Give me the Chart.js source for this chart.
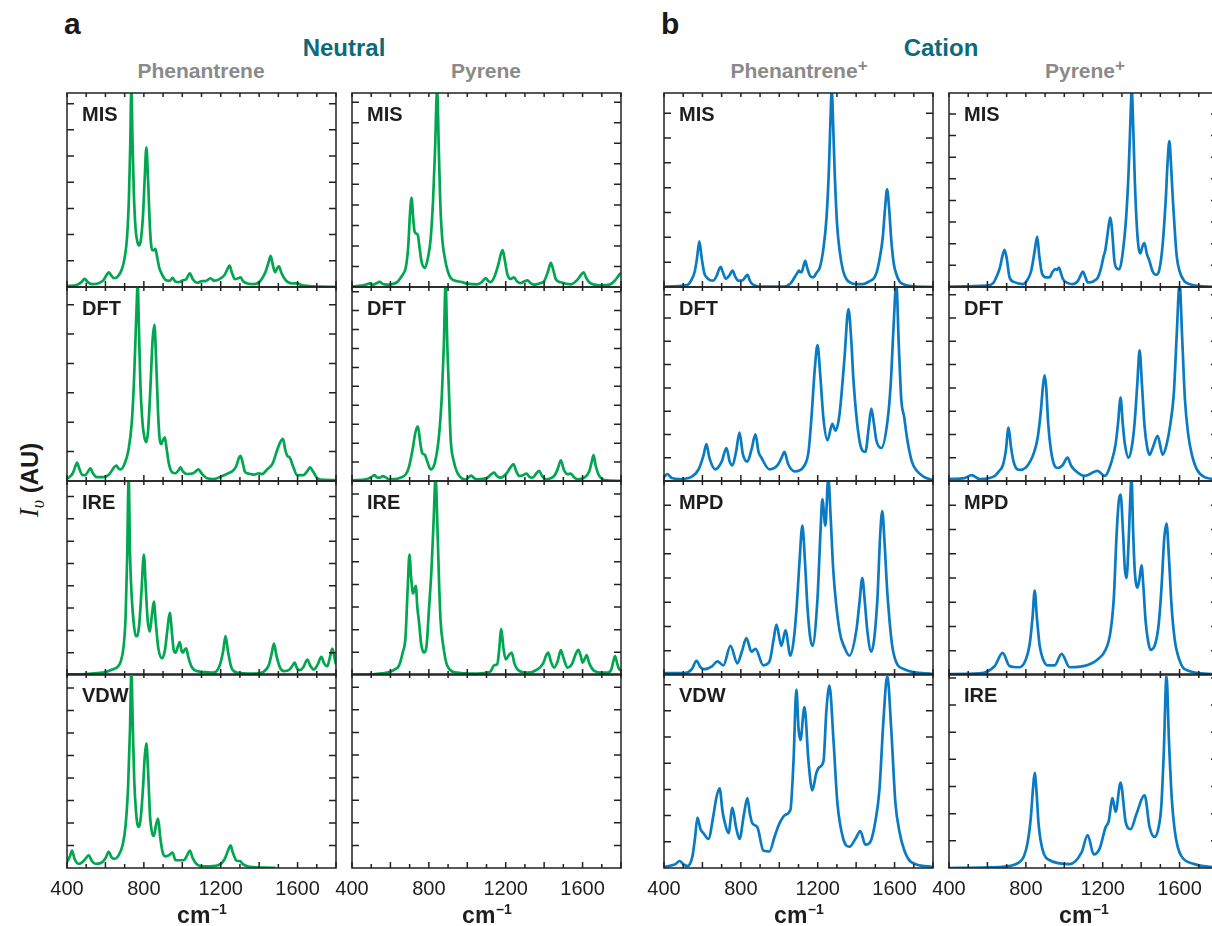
<!DOCTYPE html>
<html>
<head>
<meta charset="utf-8">
<script src="https://cdn.jsdelivr.net/npm/chart.js@4.4.1/dist/chart.umd.min.js"></script>
<style>
  body { margin: 0; width: 1212px; height: 926px; overflow: hidden; background: #fff; position: relative;
         font-family: 'Liberation Sans', Arial, sans-serif; }
  .t { position: absolute; white-space: nowrap; font-weight: bold; line-height: 1; }
  .c { transform: translateX(-50%); }
  canvas { position: absolute; }
</style>
</head>
<body>
<div class="t" style="left:64px;top:9px;font-size:30px;color:#1a1a1a">a</div>
<div class="t" style="left:661px;top:9px;font-size:30px;color:#1a1a1a">b</div>
<div class="t c" style="left:344px;top:36px;font-size:24px;color:#0b6a7c">Neutral</div>
<div class="t c" style="left:941px;top:36px;font-size:24px;color:#0b6a7c">Cation</div>
<div class="t c" style="left:201px;top:60px;font-size:21px;color:#8a8a8a">Phenantrene</div>
<div class="t c" style="left:486px;top:60px;font-size:21px;color:#8a8a8a">Pyrene</div>
<div class="t c" style="left:799px;top:60px;font-size:21px;color:#8a8a8a">Phenantrene<span style="font-size:17px;position:relative;top:-7px">+</span></div>
<div class="t c" style="left:1085px;top:60px;font-size:21px;color:#8a8a8a">Pyrene<span style="font-size:17px;position:relative;top:-7px">+</span></div>
<div class="t" style="left:29px;top:480px;font-size:24px;color:#1a1a1a;transform:translate(-50%,-50%) rotate(-90deg)"><span style="font-family:'Liberation Serif',serif;font-style:italic;font-weight:normal;font-size:27px">I</span><span style="font-family:'Liberation Serif',serif;font-style:italic;font-weight:normal;font-size:18px;position:relative;top:6px">υ</span> (AU)</div>

<script>
// IR band profiles, x in cm-1, y as a fraction of the panel height
const phenMIS = [[400,0.005],[450,0.01],[475,0.025],[492,0.042],[508,0.025],[530,0.015],[560,0.018],[590,0.035],[605,0.06],[617,0.076],[630,0.06],[645,0.045],[665,0.055],[685,0.09],[700,0.15],[712,0.25],[722,0.45],[729,0.72],[735,1.02],[741,0.75],[748,0.48],[757,0.3],[767,0.23],[775,0.215],[784,0.24],[795,0.36],[804,0.55],[813,0.72],[822,0.55],[832,0.3],[843,0.19],[852,0.19],[860,0.197],[868,0.16],[880,0.1],[895,0.064],[915,0.035],[935,0.032],[949,0.047],[962,0.03],[980,0.025],[1004,0.035],[1020,0.04],[1039,0.07],[1055,0.04],[1077,0.022],[1103,0.03],[1120,0.03],[1147,0.045],[1165,0.033],[1182,0.035],[1208,0.05],[1222,0.065],[1236,0.095],[1246,0.11],[1258,0.075],[1274,0.04],[1290,0.045],[1303,0.05],[1318,0.028],[1340,0.018],[1373,0.015],[1400,0.025],[1416,0.045],[1434,0.08],[1450,0.13],[1460,0.16],[1472,0.11],[1483,0.076],[1493,0.095],[1503,0.107],[1515,0.075],[1538,0.035],[1570,0.018],[1599,0.019],[1620,0.01],[1660,0.005],[1720,0.002],[1800,0.001]];
const phenDFT = [[400,0.01],[430,0.04],[445,0.08],[452,0.095],[462,0.07],[480,0.03],[495,0.03],[510,0.05],[522,0.065],[535,0.04],[555,0.02],[590,0.02],[620,0.035],[645,0.07],[657,0.08],[668,0.065],[680,0.06],[700,0.09],[720,0.16],[737,0.3],[748,0.5],[757,0.75],[763,0.92],[768,1.02],[774,0.8],[782,0.5],[793,0.3],[804,0.22],[813,0.2],[822,0.26],[835,0.5],[845,0.72],[855,0.805],[864,0.62],[874,0.35],[882,0.22],[890,0.19],[899,0.21],[909,0.225],[918,0.17],[930,0.09],[947,0.045],[965,0.04],[980,0.055],[991,0.07],[1003,0.05],[1025,0.036],[1057,0.04],[1070,0.05],[1084,0.06],[1100,0.04],[1130,0.014],[1164,0.01],[1208,0.026],[1240,0.04],[1260,0.05],[1280,0.075],[1295,0.12],[1303,0.13],[1313,0.1],[1325,0.05],[1338,0.04],[1360,0.035],[1373,0.033],[1399,0.04],[1415,0.035],[1442,0.06],[1470,0.09],[1494,0.16],[1510,0.2],[1524,0.217],[1536,0.16],[1546,0.13],[1560,0.12],[1575,0.08],[1598,0.03],[1630,0.03],[1650,0.05],[1665,0.07],[1680,0.05],[1703,0.014],[1740,0.006],[1800,0.005]];
const phenIRE = [[400,0.003],[500,0.005],[560,0.01],[600,0.015],[640,0.03],[661,0.04],[680,0.07],[695,0.15],[705,0.3],[713,0.6],[721,1.02],[728,0.62],[737,0.4],[748,0.26],[758,0.2],[765,0.2],[775,0.25],[787,0.42],[800,0.62],[810,0.45],[820,0.28],[831,0.224],[841,0.3],[852,0.378],[862,0.27],[875,0.14],[895,0.086],[910,0.13],[922,0.23],[935,0.32],[946,0.22],[955,0.13],[965,0.115],[978,0.15],[987,0.17],[996,0.125],[1004,0.115],[1012,0.13],[1020,0.138],[1032,0.09],[1050,0.04],[1077,0.02],[1120,0.015],[1164,0.012],[1195,0.05],[1212,0.12],[1225,0.2],[1238,0.12],[1255,0.04],[1268,0.02],[1320,0.008],[1373,0.007],[1420,0.015],[1450,0.05],[1465,0.11],[1477,0.162],[1490,0.1],[1510,0.035],[1529,0.02],[1560,0.03],[1575,0.05],[1585,0.064],[1597,0.035],[1612,0.025],[1630,0.04],[1651,0.08],[1665,0.05],[1685,0.028],[1705,0.055],[1724,0.093],[1738,0.06],[1755,0.045],[1768,0.09],[1781,0.136],[1792,0.09],[1800,0.055]];
const phenVDW = [[400,0.03],[415,0.06],[426,0.09],[440,0.045],[461,0.022],[490,0.04],[513,0.065],[530,0.035],[548,0.022],[575,0.025],[600,0.05],[617,0.083],[632,0.055],[647,0.047],[665,0.06],[690,0.12],[705,0.22],[718,0.42],[728,0.72],[735,1.02],[742,0.75],[750,0.45],[760,0.28],[768,0.22],[775,0.212],[784,0.26],[796,0.42],[805,0.58],[813,0.643],[822,0.5],[832,0.27],[843,0.18],[852,0.165],[863,0.22],[874,0.255],[885,0.16],[898,0.08],[912,0.06],[930,0.065],[949,0.08],[965,0.04],[982,0.04],[1008,0.04],[1025,0.065],[1039,0.09],[1055,0.05],[1077,0.018],[1110,0.008],[1147,0.009],[1190,0.015],[1220,0.045],[1240,0.095],[1251,0.117],[1263,0.08],[1280,0.04],[1290,0.036],[1300,0.036],[1315,0.02],[1338,0.009],[1380,0.004],[1430,0.002],[1485,0.001]];

const pyrMIS = [[400,0.003],[450,0.007],[480,0.015],[496,0.02],[510,0.012],[525,0.018],[544,0.026],[560,0.015],[583,0.012],[610,0.015],[635,0.025],[655,0.05],[668,0.07],[680,0.1],[692,0.2],[702,0.38],[710,0.46],[718,0.36],[726,0.285],[735,0.275],[743,0.266],[752,0.2],[762,0.13],[779,0.098],[795,0.15],[809,0.244],[822,0.45],[832,0.7],[843,1.02],[852,0.7],[860,0.42],[870,0.244],[883,0.15],[896,0.09],[915,0.045],[948,0.03],[965,0.027],[1000,0.017],[1052,0.014],[1075,0.025],[1096,0.046],[1110,0.03],[1122,0.025],[1140,0.05],[1160,0.11],[1175,0.17],[1184,0.19],[1195,0.14],[1209,0.064],[1226,0.042],[1243,0.05],[1258,0.03],[1278,0.02],[1295,0.028],[1313,0.034],[1330,0.02],[1348,0.012],[1380,0.02],[1400,0.03],[1420,0.08],[1435,0.124],[1447,0.09],[1461,0.04],[1487,0.024],[1539,0.014],[1574,0.038],[1590,0.06],[1605,0.076],[1620,0.045],[1635,0.024],[1696,0.009],[1740,0.012],[1765,0.03],[1785,0.055],[1796,0.069],[1800,0.064]];
const pyrDFT = [[400,0.003],[478,0.01],[500,0.02],[518,0.03],[530,0.018],[545,0.017],[560,0.025],[574,0.02],[590,0.01],[620,0.01],[652,0.017],[680,0.035],[696,0.07],[715,0.16],[730,0.25],[743,0.282],[755,0.2],[765,0.145],[779,0.135],[792,0.1],[809,0.06],[830,0.09],[852,0.225],[868,0.45],[878,0.7],[887,1.02],[896,0.7],[905,0.45],[913,0.225],[930,0.1],[948,0.043],[970,0.015],[991,0.007],[1021,0.028],[1035,0.015],[1052,0.009],[1104,0.017],[1125,0.035],[1139,0.043],[1155,0.025],[1174,0.017],[1205,0.04],[1225,0.07],[1240,0.087],[1255,0.05],[1270,0.026],[1290,0.03],[1308,0.038],[1325,0.02],[1339,0.017],[1360,0.04],[1374,0.052],[1390,0.025],[1409,0.009],[1452,0.026],[1470,0.06],[1487,0.107],[1502,0.06],[1522,0.035],[1539,0.038],[1555,0.02],[1574,0.009],[1609,0.017],[1635,0.05],[1648,0.1],[1657,0.133],[1668,0.08],[1687,0.026],[1730,0.003],[1800,0.001]];
const pyrIRE = [[400,0.0],[513,0.004],[560,0.008],[600,0.017],[625,0.03],[644,0.047],[665,0.12],[678,0.19],[690,0.45],[699,0.62],[708,0.5],[718,0.42],[725,0.44],[732,0.46],[740,0.35],[748,0.28],[760,0.16],[774,0.116],[788,0.15],[800,0.33],[814,0.55],[825,0.8],[835,1.02],[845,0.75],[853,0.48],[861,0.28],[875,0.15],[896,0.047],[948,0.012],[1035,0.007],[1100,0.012],[1122,0.02],[1140,0.05],[1156,0.055],[1165,0.12],[1177,0.237],[1188,0.14],[1200,0.08],[1215,0.1],[1231,0.116],[1245,0.06],[1261,0.029],[1290,0.014],[1313,0.012],[1365,0.029],[1395,0.06],[1410,0.1],[1421,0.116],[1435,0.07],[1452,0.038],[1470,0.07],[1487,0.128],[1500,0.09],[1522,0.038],[1540,0.05],[1548,0.064],[1565,0.11],[1578,0.13],[1590,0.1],[1600,0.064],[1612,0.085],[1621,0.102],[1635,0.06],[1661,0.021],[1700,0.012],[1730,0.012],[1750,0.03],[1760,0.07],[1769,0.098],[1780,0.06],[1790,0.03],[1800,0.024]];

const phenCatMIS = [[400,0.002],[520,0.01],[545,0.04],[560,0.08],[572,0.15],[584,0.235],[596,0.15],[610,0.07],[622,0.05],[640,0.035],[656,0.033],[675,0.06],[686,0.09],[695,0.104],[705,0.08],[722,0.042],[740,0.06],[757,0.084],[770,0.055],[786,0.033],[810,0.035],[822,0.05],[835,0.063],[846,0.035],[856,0.019],[880,0.005],[900,0.002],[1020,0.002],[1060,0.02],[1080,0.05],[1095,0.075],[1102,0.084],[1110,0.076],[1116,0.076],[1125,0.105],[1135,0.135],[1145,0.1],[1159,0.06],[1176,0.05],[1195,0.075],[1211,0.1],[1230,0.2],[1246,0.36],[1258,0.6],[1266,0.85],[1273,1.02],[1280,0.85],[1288,0.6],[1301,0.32],[1315,0.18],[1332,0.084],[1350,0.04],[1367,0.024],[1400,0.015],[1436,0.015],[1470,0.03],[1488,0.04],[1505,0.07],[1523,0.15],[1538,0.25],[1550,0.4],[1561,0.503],[1572,0.4],[1583,0.24],[1596,0.12],[1609,0.067],[1625,0.03],[1644,0.015],[1696,0.003],[1800,0.0]];
const phenCatDFT = [[400,0.02],[418,0.036],[440,0.015],[481,0.01],[540,0.02],[580,0.06],[605,0.13],[621,0.19],[636,0.12],[667,0.06],[700,0.1],[725,0.17],[742,0.1],[756,0.08],[775,0.15],[793,0.25],[810,0.14],[834,0.1],[855,0.16],[876,0.24],[892,0.15],[907,0.12],[949,0.06],[990,0.08],[1012,0.12],[1027,0.15],[1045,0.09],[1079,0.05],[1131,0.08],[1152,0.15],[1167,0.32],[1185,0.58],[1199,0.7],[1213,0.55],[1230,0.32],[1251,0.21],[1276,0.295],[1292,0.26],[1313,0.34],[1339,0.63],[1360,0.886],[1375,0.72],[1386,0.52],[1417,0.21],[1448,0.15],[1466,0.28],[1479,0.373],[1492,0.3],[1505,0.21],[1531,0.17],[1562,0.3],[1580,0.5],[1595,0.8],[1609,1.02],[1622,0.7],[1635,0.42],[1650,0.33],[1665,0.22],[1690,0.1],[1718,0.05],[1755,0.02],[1800,0.005]];
const phenCatMPD = [[400,0.01],[507,0.01],[545,0.03],[569,0.073],[590,0.04],[610,0.03],[650,0.045],[678,0.07],[709,0.05],[746,0.15],[782,0.06],[805,0.12],[829,0.19],[855,0.12],[876,0.135],[917,0.05],[949,0.07],[970,0.18],[985,0.26],[1011,0.15],[1032,0.23],[1058,0.1],[1075,0.18],[1089,0.33],[1105,0.58],[1120,0.77],[1134,0.58],[1146,0.36],[1160,0.2],[1172,0.15],[1198,0.38],[1215,0.75],[1224,0.906],[1240,0.77],[1255,1.02],[1268,0.8],[1281,0.54],[1313,0.23],[1340,0.14],[1365,0.1],[1401,0.23],[1418,0.38],[1432,0.5],[1445,0.38],[1458,0.23],[1479,0.12],[1510,0.38],[1525,0.72],[1536,0.845],[1548,0.68],[1562,0.43],[1593,0.12],[1650,0.03],[1800,0.005]];
const phenCatVDW = [[400,0.005],[460,0.02],[481,0.036],[500,0.02],[522,0.01],[548,0.06],[562,0.16],[574,0.26],[590,0.2],[605,0.18],[631,0.15],[657,0.27],[672,0.36],[689,0.41],[705,0.29],[715,0.24],[736,0.18],[756,0.31],[775,0.21],[793,0.15],[815,0.27],[834,0.36],[847,0.28],[860,0.23],[886,0.21],[917,0.09],[949,0.085],[975,0.16],[1001,0.23],[1032,0.275],[1058,0.3],[1074,0.55],[1089,0.92],[1100,0.72],[1110,0.66],[1131,0.83],[1152,0.55],[1172,0.4],[1193,0.49],[1209,0.52],[1230,0.55],[1245,0.81],[1261,0.94],[1282,0.66],[1302,0.34],[1333,0.15],[1365,0.11],[1396,0.15],[1422,0.19],[1448,0.12],[1474,0.135],[1500,0.24],[1521,0.4],[1542,0.76],[1562,0.99],[1583,0.71],[1604,0.34],[1625,0.19],[1651,0.09],[1687,0.03],[1800,0.005]];

const pyrCatMIS = [[400,0.002],[594,0.007],[630,0.02],[646,0.05],[665,0.1],[678,0.16],[689,0.192],[700,0.15],[715,0.05],[740,0.025],[785,0.015],[810,0.04],[828,0.084],[845,0.18],[859,0.26],[870,0.16],[885,0.067],[905,0.05],[923,0.05],[940,0.08],[954,0.092],[963,0.09],[972,0.1],[983,0.07],[993,0.04],[1020,0.02],[1045,0.015],[1070,0.03],[1085,0.06],[1097,0.08],[1110,0.05],[1122,0.024],[1140,0.025],[1157,0.033],[1175,0.05],[1192,0.1],[1205,0.16],[1213,0.187],[1225,0.27],[1233,0.33],[1240,0.358],[1248,0.3],[1261,0.135],[1275,0.095],[1287,0.092],[1302,0.16],[1322,0.36],[1335,0.6],[1344,0.85],[1351,1.02],[1358,0.85],[1367,0.55],[1377,0.324],[1387,0.2],[1396,0.173],[1407,0.21],[1417,0.226],[1430,0.17],[1443,0.135],[1460,0.08],[1478,0.063],[1495,0.09],[1512,0.22],[1528,0.45],[1538,0.65],[1547,0.752],[1556,0.62],[1565,0.45],[1573,0.324],[1585,0.16],[1599,0.084],[1625,0.03],[1651,0.015],[1720,0.003],[1800,0.0]];
const pyrCatDFT = [[400,0.01],[481,0.015],[518,0.03],[560,0.01],[637,0.025],[660,0.05],[680,0.08],[695,0.15],[710,0.275],[722,0.18],[736,0.1],[750,0.065],[767,0.057],[800,0.07],[822,0.1],[840,0.14],[861,0.22],[878,0.36],[890,0.5],[898,0.544],[906,0.48],[916,0.3],[929,0.17],[945,0.09],[965,0.067],[990,0.08],[1017,0.12],[1035,0.08],[1054,0.057],[1106,0.026],[1173,0.052],[1210,0.026],[1246,0.1],[1267,0.19],[1280,0.3],[1293,0.43],[1304,0.3],[1314,0.2],[1335,0.12],[1352,0.18],[1366,0.3],[1380,0.5],[1392,0.674],[1404,0.5],[1418,0.28],[1432,0.17],[1444,0.135],[1460,0.17],[1486,0.233],[1512,0.135],[1533,0.19],[1550,0.28],[1570,0.45],[1585,0.75],[1600,1.02],[1613,0.75],[1628,0.42],[1645,0.24],[1663,0.14],[1690,0.06],[1730,0.02],[1800,0.008]];
const pyrCatMPD = [[400,0.005],[560,0.008],[637,0.045],[679,0.114],[715,0.047],[767,0.04],[800,0.08],[820,0.16],[835,0.3],[846,0.435],[857,0.3],[872,0.15],[890,0.08],[913,0.05],[950,0.05],[986,0.109],[1028,0.04],[1106,0.047],[1173,0.08],[1215,0.13],[1240,0.22],[1258,0.4],[1272,0.72],[1284,0.9],[1293,0.93],[1305,0.75],[1315,0.55],[1324,0.5],[1335,0.69],[1343,0.9],[1350,1.02],[1358,0.75],[1366,0.55],[1381,0.45],[1392,0.5],[1402,0.565],[1412,0.45],[1423,0.28],[1437,0.17],[1449,0.13],[1470,0.15],[1490,0.25],[1506,0.45],[1520,0.7],[1532,0.78],[1545,0.6],[1558,0.36],[1575,0.18],[1589,0.11],[1626,0.03],[1767,0.005],[1800,0.004]];
const pyrCatIRE = [[400,0.0],[663,0.005],[767,0.03],[790,0.06],[809,0.13],[825,0.25],[838,0.42],[846,0.49],[855,0.4],[866,0.23],[877,0.14],[895,0.07],[924,0.04],[1028,0.02],[1090,0.08],[1122,0.17],[1153,0.07],[1184,0.1],[1215,0.21],[1231,0.24],[1251,0.36],[1267,0.29],[1293,0.44],[1319,0.24],[1345,0.2],[1376,0.28],[1418,0.375],[1444,0.21],[1470,0.16],[1491,0.21],[1505,0.32],[1518,0.6],[1532,0.99],[1545,0.65],[1560,0.35],[1574,0.2],[1590,0.11],[1610,0.06],[1678,0.02],[1767,0.005],[1800,0.003]];

// panel labels and y tick spacing (fraction of panel height), top to bottom
const neutralPhenLabels = ['MIS', 'DFT', 'IRE', 'VDW'];
const neutralPyrLabels = ['MIS', 'DFT', 'IRE', ''];
const cationPhenLabels = ['MIS', 'DFT', 'MPD', 'VDW'];
const cationPyrLabels = ['MIS', 'DFT', 'MPD', 'IRE'];
const neutralPhenSteps = [0.135, 0.1515, 0.115, 0.116];
const neutralPyrSteps = [0.1058, 0.0976, 0.1167, 0.1165];
const cationPhenSteps = [0.128, 0.12, 0.125, 0.135];
const cationPyrSteps = [0.1115, 0.12, 0.125, 0.14];

const xMin = 400, xMax = 1800;
const xLabelValues = [400, 800, 1200, 1600];

const GREEN = '#00a650';
const BLUE = '#0a7bc2';
const FONT = "'Liberation Sans', Arial, sans-serif";

const columns = [
  { left: 67,  color: GREEN, series: [phenMIS, phenDFT, phenIRE, phenVDW], labels: neutralPhenLabels, steps: neutralPhenSteps },
  { left: 352, color: GREEN, series: [pyrMIS, pyrDFT, pyrIRE, []], labels: neutralPyrLabels, steps: neutralPyrSteps },
  { left: 664, color: BLUE, series: [phenCatMIS, phenCatDFT, phenCatMPD, phenCatVDW], labels: cationPhenLabels, steps: cationPhenSteps },
  { left: 949, color: BLUE, series: [pyrCatMIS, pyrCatDFT, pyrCatMPD, pyrCatIRE], labels: cationPyrLabels, steps: cationPyrSteps }
];
const rowTops = [93, 287, 481, 674];
const plotW = 269, plotH = 194;
const padX = 24, padY = 4, axisH = 60;

// box, inward ticks on all four sides, panel name and axis unit
const panelFrame = {
  id: 'panelFrame',
  afterDatasetsDraw(chart, args, opts) {
    const { ctx, chartArea: a } = chart;
    const x = chart.scales.x, y = chart.scales.y;
    ctx.save();
    ctx.strokeStyle = '#222';
    ctx.lineWidth = 1.5;
    ctx.strokeRect(a.left, a.top, a.right - a.left, a.bottom - a.top);
    ctx.beginPath();
    for (let v = xMin; v <= xMax; v += 100) {
      const px = x.getPixelForValue(v);
      const len = v % 200 === 0 ? 6 : 4;
      ctx.moveTo(px, a.bottom); ctx.lineTo(px, a.bottom - len);
      ctx.moveTo(px, a.top); ctx.lineTo(px, a.top + 4);
    }
    for (let v = opts.step; v < 0.995; v += opts.step) {
      const py = y.getPixelForValue(v);
      ctx.moveTo(a.left, py); ctx.lineTo(a.left + 7, py);
      ctx.moveTo(a.right, py); ctx.lineTo(a.right - 7, py);
    }
    ctx.stroke();
    if (opts.label) {
      ctx.fillStyle = '#1e1e1e';
      ctx.font = 'bold 20px ' + FONT;
      ctx.textBaseline = 'alphabetic';
      ctx.fillText(opts.label, a.left + 15, a.top + 28);
    }
    if (opts.unit) {
      ctx.fillStyle = '#1e1e1e';
      ctx.font = 'bold 23px ' + FONT;
      const w1 = ctx.measureText('cm').width;
      ctx.font = 'bold 14px ' + FONT;
      const w2 = ctx.measureText('\u20131').width;
      const cx = (a.left + a.right) / 2, x0 = cx - (w1 + w2) / 2, by = a.bottom + 55;
      ctx.font = 'bold 23px ' + FONT;
      ctx.fillText('cm', x0, by);
      ctx.font = 'bold 14px ' + FONT;
      ctx.fillText('\u20131', x0 + w1 + 1, by - 9);
    }
    ctx.restore();
  }
};

columns.forEach(col => {
  rowTops.forEach((top, r) => {
    const isBottom = r === rowTops.length - 1;
    const cv = document.createElement('canvas');
    cv.width = plotW + 2 * padX;
    cv.height = plotH + padY + (isBottom ? axisH : padY);
    cv.style.left = (col.left - padX) + 'px';
    cv.style.top = (top - padY) + 'px';
    document.body.appendChild(cv);

    const data = col.series[r];
    new Chart(cv, {
      type: 'line',
      data: {
        datasets: data.length ? [{
          data: data,
          borderColor: col.color,
          borderWidth: 2.7,
          pointRadius: 0,
          fill: false,
          cubicInterpolationMode: 'monotone'
        }] : []
      },
      options: {
        animation: false,
        responsive: false,
        devicePixelRatio: 1,
        layout: { padding: { left: padX, right: padX, top: padY, bottom: isBottom ? 0 : padY } },
        plugins: {
          legend: { display: false },
          tooltip: { enabled: false },
          panelFrame: { label: col.labels[r], step: col.steps[r], unit: isBottom }
        },
        scales: {
          x: {
            type: 'linear',
            min: xMin,
            max: xMax,
            display: isBottom,
            grid: { display: false },
            border: { display: false },
            ticks: {
              stepSize: 100,
              autoSkip: false,
              maxRotation: 0,
              padding: 1,
              color: '#1e1e1e',
              font: { size: 20, family: FONT },
              callback: v => xLabelValues.includes(v) ? String(v) : ''
            },
            afterFit: s => { if (isBottom) s.height = axisH; }
          },
          y: { type: 'linear', min: 0, max: 1, display: false }
        }
      },
      plugins: [panelFrame]
    });
  });
});
</script>
</body>
</html>
